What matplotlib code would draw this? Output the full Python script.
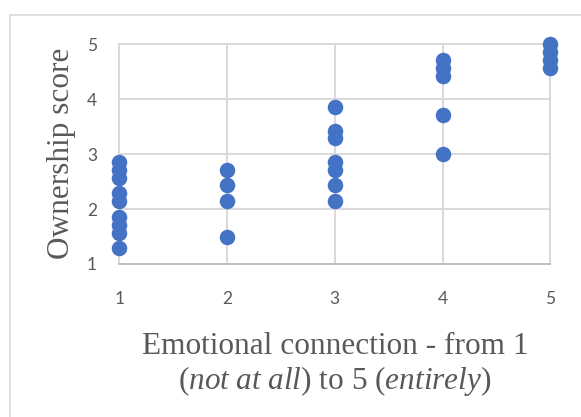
import matplotlib
matplotlib.use("Agg")
import matplotlib.pyplot as plt
from matplotlib.patches import Rectangle

# Emotional connection rating (x) and ownership score (y)
emotion_1 = [2.86, 2.71, 2.57, 2.29, 2.14, 1.86, 1.71, 1.57, 1.29]
emotion_2 = [2.71, 2.43, 2.14, 1.50]
emotion_3 = [3.86, 3.43, 3.29, 2.86, 2.71, 2.43, 2.14]
emotion_4 = [4.71, 4.57, 4.43, 3.71, 3.00]
emotion_5 = [5.00, 4.86, 4.71, 4.57]

groups = {1: emotion_1, 2: emotion_2, 3: emotion_3, 4: emotion_4, 5: emotion_5}
ticks = [1, 2, 3, 4, 5]

W, H = 581, 417
dot_color = "#4472C4"
grid_color = "#D9D9D9"
text_color = "#595959"

# italic bits of the axis title in the same serif face
plt.rcParams["mathtext.fontset"] = "custom"
plt.rcParams["mathtext.rm"] = "Liberation Serif"
plt.rcParams["mathtext.it"] = "Liberation Serif:italic"

fig = plt.figure(figsize=(W / 100, H / 100), dpi=100)
fig.patch.set_facecolor("white")

# light chart-area border (Excel style), clipped at the right and bottom
fig.patches.append(Rectangle((9.5 / W, -0.1), 1.2, 1 - 15 / H + 0.1,
                             transform=fig.transFigure, fill=False,
                             edgecolor=grid_color, linewidth=1.2))

ax = fig.add_axes([119.3 / W, 1 - 264 / H, 431 / W, 219.7 / H])

xs, ys = [], []
for x, vals in groups.items():
    xs += [x] * len(vals)
    ys += vals
ax.scatter(xs, ys, s=125, color=dot_color, linewidths=0, zorder=3, clip_on=False)

ax.set_xlim(1, 5)
ax.set_ylim(1, 5)
ax.set_xticks(ticks)
ax.set_yticks(ticks)
ax.grid(True, color=grid_color, linewidth=1.4)
ax.set_axisbelow(True)
for side in ["left", "right", "top"]:
    ax.spines[side].set_color(grid_color)
    ax.spines[side].set_linewidth(1.4)
ax.spines["bottom"].set_color("#BFBFBF")
ax.spines["bottom"].set_linewidth(1.4)

ax.tick_params(length=0, labelsize=12.5, labelcolor=text_color)
ax.tick_params(axis="x", pad=19.5)
ax.tick_params(axis="y", pad=16)
for lab in ax.get_xticklabels() + ax.get_yticklabels():
    lab.set_fontfamily("Lato")

serif = "Liberation Serif"
fs = 22.5
fig.text(62 / W, 1 - 153 / H, "Ownership score", rotation=90, ha="center",
         va="center", fontsize=fs, color=text_color, family=serif)
fig.text(335 / W, 1 - 346 / H, "Emotional connection - from 1", ha="center",
         va="center", fontsize=fs, color=text_color, family=serif)
fig.text(335 / W, 1 - 381 / H,
         r"($\it{not\ at\ all}$) to 5 ($\it{entirely}$)",
         ha="center", va="center", fontsize=fs, color=text_color, family=serif)

fig.savefig("out.png", dpi=100)
